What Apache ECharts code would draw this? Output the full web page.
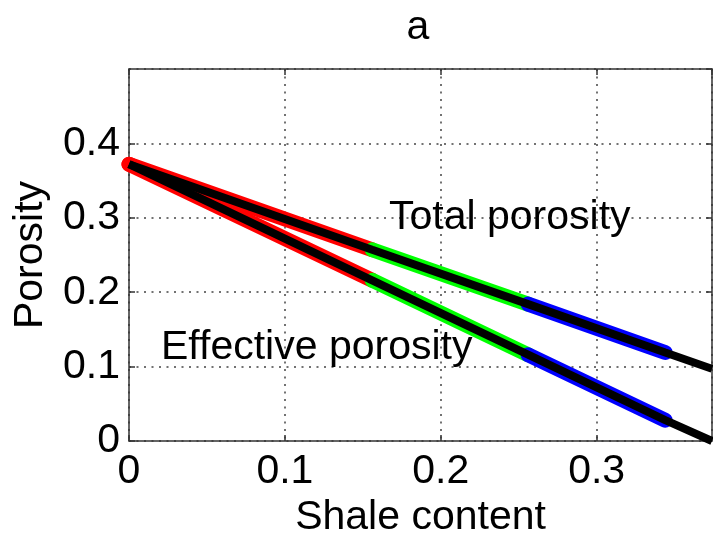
<!DOCTYPE html>
<html>
<head>
<meta charset="utf-8">
<script src="https://cdn.jsdelivr.net/npm/echarts@6/dist/echarts.min.js"></script>
<style>
  html, body { margin: 0; padding: 0; background: #fff; }
  #chart { width: 713px; height: 534px; }
</style>
</head>
<body>
<div id="chart"></div>
<script>
// Shale content at the segment breaks and line ends
const shale = [0, 0.156, 0.256, 0.344, 0.374];
// Porosity read at each shale value
const totalPorosity = [0.372, 0.257, 0.184, 0.119, 0.097];
const effectivePorosity = [0.372, 0.216, 0.116, 0.028, 0.0];
// Marker colours for the three shale ranges
const segmentColors = ['#ff0000', '#00ff00', '#0000ff'];
const xTicks = [0, 0.1, 0.2, 0.3];
const yTicks = [0, 0.1, 0.2, 0.3, 0.4];

const FONT = '"Liberation Sans", Arial, sans-serif';
const FS = 41;

function pts(ys, from, to) {
  const out = [];
  for (let i = from; i <= to; i++) out.push([shale[i], ys[i]]);
  return out;
}

const series = [];
[totalPorosity, effectivePorosity].forEach(function (ys) {
  segmentColors.forEach(function (c, i) {
    series.push({
      type: 'line', data: pts(ys, i, i + 1), symbol: 'none', clip: false,
      lineStyle: { color: c, width: 15, cap: 'round' }, z: 2, silent: true
    });
  });
});
[totalPorosity, effectivePorosity].forEach(function (ys) {
  series.push({
    type: 'line', data: pts(ys, 0, shale.length - 1), symbol: 'none',
    lineStyle: { color: '#000', width: 8 }, z: 3, silent: true
  });
});

const fmt = function (v) { return String(+v.toFixed(2)); };
const gridLine = { show: true, lineStyle: { color: '#444', width: 1.5, type: [2, 5.5] } };
const axisLine = { show: true, onZero: false, lineStyle: { color: '#333', width: 1.5 } };
const tick = { show: true, inside: true, length: 6, lineStyle: { color: '#333', width: 1.5 } };

const chart = echarts.init(document.getElementById('chart'));
chart.setOption({
  animation: false,
  backgroundColor: '#fff',
  grid: { left: 129, right: 1, top: 69, bottom: 93, containLabel: false, outerBoundsMode: 'none' },
  xAxis: [{
    type: 'value', min: 0, max: shale[shale.length - 1], interval: 0.1,
    name: 'Shale content', nameLocation: 'middle', nameGap: 50,
    nameTextStyle: { fontFamily: FONT, fontSize: FS, color: '#000' },
    axisLine: axisLine, axisTick: tick, splitLine: gridLine,
    axisLabel: {
      fontFamily: FONT, fontSize: FS, color: '#000', margin: 10,
      showMaxLabel: false,
      formatter: function (v) { return xTicks.some(t => Math.abs(t - v) < 1e-6) ? fmt(v) : ''; }
    }
  }, {
    type: 'value', position: 'top', min: 0, max: shale[shale.length - 1], interval: 0.1,
    axisLine: axisLine, axisTick: tick, splitLine: { show: false }, axisLabel: { show: false }
  }],
  yAxis: [{
    type: 'value', min: 0, max: 0.5, interval: 0.1,
    name: 'Porosity', nameLocation: 'middle', nameGap: 78,
    nameTextStyle: { fontFamily: FONT, fontSize: FS, color: '#000' },
    axisLine: axisLine, axisTick: tick, splitLine: gridLine,
    axisLabel: {
      fontFamily: FONT, fontSize: FS, color: '#000', margin: 9,
      showMaxLabel: false,
      formatter: function (v) { return yTicks.some(t => Math.abs(t - v) < 1e-6) ? fmt(v) : ''; }
    }
  }, {
    type: 'value', position: 'right', min: 0, max: 0.5, interval: 0.1,
    axisLine: axisLine, axisTick: tick, splitLine: { show: false }, axisLabel: { show: false }
  }],
  graphic: [
    { type: 'text', x: 418, y: 28, style: { text: 'a', font: FS + 'px ' + FONT, fill: '#000', align: 'center', verticalAlign: 'middle' }, z: 10 },
    { type: 'text', x: 389, y: 218, style: { text: 'Total porosity', font: FS + 'px ' + FONT, fill: '#000', verticalAlign: 'middle' }, z: 10 },
    { type: 'text', x: 161, y: 348, style: { text: 'Effective porosity', font: FS + 'px ' + FONT, fill: '#000', verticalAlign: 'middle' }, z: 10 }
  ],
  series: series
});
</script>
</body>
</html>
